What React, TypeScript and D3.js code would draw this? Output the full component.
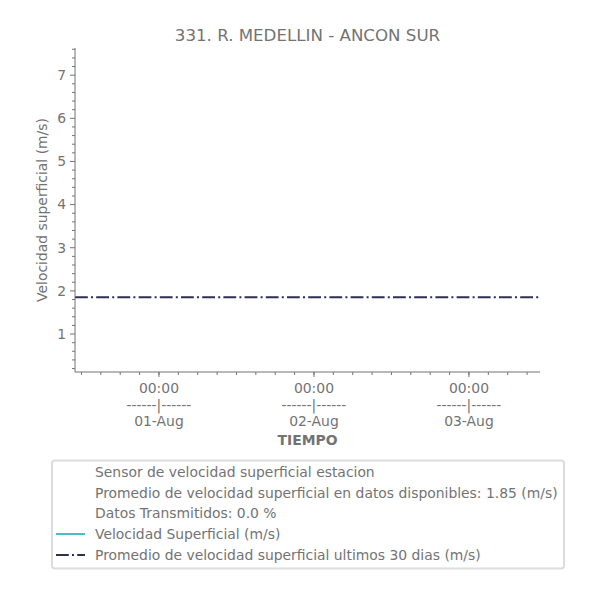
import React from "react";
import * as d3 from "d3";

const TITLE = "331. R. MEDELLIN - ANCON SUR";
const X_START = new Date(2023, 6, 31, 11, 0);
const X_END = new Date(2023, 7, 3, 11, 0);
const MAJOR_DAYS = [new Date(2023, 7, 1), new Date(2023, 7, 2), new Date(2023, 7, 3)];
const DAY_LABELS = ["01-Aug", "02-Aug", "03-Aug"];
const Y_TICKS = [1, 2, 3, 4, 5, 6, 7];
const Y_DOMAIN = [0.12, 7.63];
const VELOCITY_TIMES: Date[] = [];
const VELOCITY_VALUES: number[] = [];
const MEAN_30D = 1.85;
const MEAN_AVAILABLE = 1.85;
const PCT_TRANSMITTED = 0.0;
const LEGEND_TEXT = [
  "Sensor de velocidad superficial estacion",
  `Promedio de velocidad superficial en datos disponibles: ${MEAN_AVAILABLE.toFixed(2)} (m/s)`,
  `Datos Transmitidos: ${PCT_TRANSMITTED.toFixed(1)} %`,
  "Velocidad Superficial (m/s)",
  "Promedio de velocidad superficial ultimos 30 dias (m/s)",
];

const TEXT = "#737373";
const AXIS = "#737373";
const CYAN = "#4bbcc8";
const NAVY = "#2d2f55";
const FONT = "DejaVu Sans";
const FS = 13.9;
const DASH = "12.8,3.2,2,3.2";

export default function App() {
  const W = 600, H = 600;
  const L = 75, R = 540, T = 48, B = 372;
  const x = d3.scaleTime().domain([X_START, X_END]).range([L, R]);
  const y = d3.scaleLinear().domain(Y_DOMAIN).range([B, T]);
  const minorX = d3.timeHour.every(3)!.range(X_START, new Date(+X_END + 1));
  const minorY = d3.range(0.2, 7.61, 0.2).filter((v) => Math.abs(v - Math.round(v)) > 1e-6);
  const line = d3
    .line<number>()
    .x((_, i) => x(VELOCITY_TIMES[i]))
    .y((d) => y(d));
  const legendRows = [472, 493, 513.5, 534, 555];

  return (
    <svg width={W} height={H} style={{ position: "absolute", left: 0, top: 0, background: "#fff" }} fontFamily={FONT}>
      <rect width={W} height={H} fill="#fff" />
      <text x={307.5} y={41} textAnchor="middle" fontSize={16.67} fill={TEXT}>{TITLE}</text>

      {/* mean line */}
      <line x1={L} x2={R} y1={y(MEAN_30D)} y2={y(MEAN_30D)} stroke={NAVY} strokeWidth={2} strokeDasharray={DASH} />
      {VELOCITY_VALUES.length > 0 && <path d={line(VELOCITY_VALUES) || ""} fill="none" stroke={CYAN} strokeWidth={2} />}

      {/* axes */}
      <line x1={L} x2={L} y1={T} y2={B} stroke={AXIS} strokeWidth={1} />
      <line x1={L} x2={R} y1={B} y2={B} stroke={AXIS} strokeWidth={1} />

      {Y_TICKS.map((v) => (
        <g key={v}>
          <line x1={L - 5} x2={L} y1={y(v)} y2={y(v)} stroke={AXIS} />
          <text x={L - 9} y={y(v)} dy="0.35em" textAnchor="end" fontSize={FS} fill={TEXT}>{v}</text>
        </g>
      ))}
      {minorY.map((v, i) => (
        <line key={i} x1={L - 3} x2={L} y1={y(v)} y2={y(v)} stroke={AXIS} />
      ))}
      <text transform={`translate(47,${(T + B) / 2}) rotate(-90)`} textAnchor="middle" fontSize={FS} fill={TEXT}>
        Velocidad superficial (m/s)
      </text>

      {minorX.map((d, i) => (
        <line key={i} x1={x(d)} x2={x(d)} y1={B} y2={B + 3} stroke={AXIS} />
      ))}
      {MAJOR_DAYS.map((d, i) => (
        <g key={i}>
          <line x1={x(d)} x2={x(d)} y1={B} y2={B + 5} stroke={AXIS} />
          <text x={x(d)} y={393} textAnchor="middle" fontSize={FS} fill={TEXT}>00:00</text>
          <text x={x(d)} y={409.5} textAnchor="middle" fontSize={FS} fill={TEXT}>------|------</text>
          <text x={x(d)} y={426} textAnchor="middle" fontSize={FS} fill={TEXT}>{DAY_LABELS[i]}</text>
        </g>
      ))}
      <text x={307.5} y={445} textAnchor="middle" fontSize={FS} fontWeight="bold" fill={TEXT}>TIEMPO</text>

      {/* legend */}
      <rect x={52} y={460.5} width={512} height={108} rx={3} fill="#fff" stroke="#dcdcdc" strokeWidth={2} />
      <line x1={56} x2={85} y1={legendRows[3]} y2={legendRows[3]} stroke={CYAN} strokeWidth={2} />
      <line x1={56} x2={85} y1={legendRows[4]} y2={legendRows[4]} stroke={NAVY} strokeWidth={2} strokeDasharray={DASH} />
      {LEGEND_TEXT.map((t, i) => (
        <text key={i} x={95} y={legendRows[i]} dy="0.35em" fontSize={FS} fill={TEXT}>{t}</text>
      ))}
    </svg>
  );
}
